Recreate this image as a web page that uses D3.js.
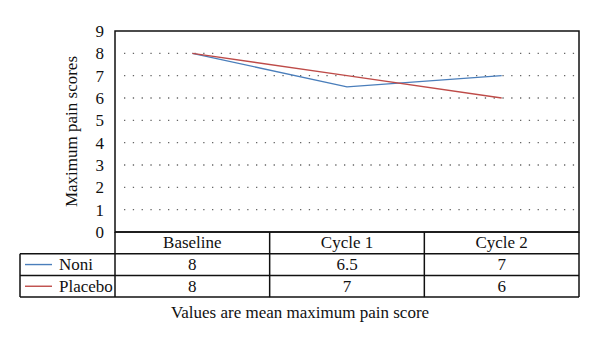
<!DOCTYPE html>
<html>
<head>
<meta charset="utf-8">
<script src="https://cdn.jsdelivr.net/npm/d3@7"></script>
<style>
  body { margin: 0; background: #fff; }
</style>
</head>
<body>
<svg id="chart" width="600" height="345" font-family="Liberation Serif"></svg>
<script>
var categories = ["Baseline", "Cycle 1", "Cycle 2"];
var seriesNames = ["Noni", "Placebo"];
var noniValues = [8, 6.5, 7];
var placeboValues = [8, 7, 6];
var valueLabels = [["8", "6.5", "7"], ["8", "7", "6"]];
var yTicks = [0, 1, 2, 3, 4, 5, 6, 7, 8, 9];
var colors = ["#4a7ebb", "#be4b48"];

var vis = d3.select("#chart"),
    MARGINS = { top: 31, left: 115, right: 579, bottom: 232 },
    TABLE_LEFT = 20,
    ROW_H = 21.7,
    FONT_FAMILY = "Liberation Serif",
    FONT_SIZE = 17;

function styleText(sel) {
  return sel.attr("font-family", FONT_FAMILY)
    .attr("font-size", FONT_SIZE)
    .attr("fill", "#111");
}

var xScale = d3.scaleBand().domain(categories).range([MARGINS.left, MARGINS.right]);
var yScale = d3.scaleLinear().domain([0, 9]).range([MARGINS.bottom, MARGINS.top]);

// dotted gridlines
vis.append("g")
  .selectAll("line")
  .data(yTicks.filter(function(d) { return d > 0 && d < 9; }))
  .join("line")
    .attr("x1", MARGINS.left + 9)
    .attr("x2", MARGINS.right - 1)
    .attr("y1", function(d) { return yScale(d); })
    .attr("y2", function(d) { return yScale(d); })
    .attr("stroke", "#666")
    .attr("stroke-width", 1.3)
    .attr("stroke-dasharray", "1.3,7.5");

// y axis labels
var yAxis = d3.axisLeft(yScale).tickValues(yTicks).tickSize(0).tickPadding(11);
var yg = vis.append("g")
  .attr("transform", "translate(" + MARGINS.left + ",0)")
  .call(yAxis);
yg.select(".domain").remove();
yg.attr("font-family", FONT_FAMILY).attr("font-size", FONT_SIZE);
styleText(yg.selectAll("text"));

styleText(vis.append("text"))
  .attr("transform", "translate(77," + ((MARGINS.top + MARGINS.bottom) / 2) + ") rotate(-90)")
  .attr("text-anchor", "middle")
  .text("Maximum pain scores");

// plot border
vis.append("rect")
  .attr("x", MARGINS.left)
  .attr("y", MARGINS.top)
  .attr("width", MARGINS.right - MARGINS.left)
  .attr("height", MARGINS.bottom - MARGINS.top)
  .attr("fill", "none")
  .attr("stroke", "#111")
  .attr("stroke-width", 1.5);

// lines
var lineGen = d3.line()
  .x(function(d, i) { return xScale(categories[i]) + xScale.bandwidth() / 2; })
  .y(function(d) { return yScale(d); });

[noniValues, placeboValues].forEach(function(vals, i) {
  vis.append("path")
    .attr("d", lineGen(vals))
    .attr("stroke", colors[i])
    .attr("stroke-width", 1.4)
    .attr("fill", "none");
});

// data table
var tbl = vis.append("g").attr("stroke", "#111").attr("stroke-width", 1.5).attr("fill", "none");
var rowY = [MARGINS.bottom, MARGINS.bottom + ROW_H, MARGINS.bottom + 2 * ROW_H, MARGINS.bottom + 3 * ROW_H];

tbl.append("line").attr("x1", MARGINS.left).attr("x2", MARGINS.right).attr("y1", rowY[0]).attr("y2", rowY[0]);
tbl.append("line").attr("x1", TABLE_LEFT).attr("x2", MARGINS.right).attr("y1", rowY[1]).attr("y2", rowY[1]);
tbl.append("line").attr("x1", TABLE_LEFT).attr("x2", MARGINS.right).attr("y1", rowY[2]).attr("y2", rowY[2]);
tbl.append("line").attr("x1", TABLE_LEFT).attr("x2", MARGINS.right).attr("y1", rowY[3]).attr("y2", rowY[3]);
tbl.append("line").attr("x1", TABLE_LEFT).attr("x2", TABLE_LEFT).attr("y1", rowY[1]).attr("y2", rowY[3]);
tbl.append("line").attr("x1", MARGINS.left).attr("x2", MARGINS.left).attr("y1", rowY[0]).attr("y2", rowY[3]);
categories.forEach(function(c) {
  var x = xScale(c) + xScale.bandwidth();
  tbl.append("line").attr("x1", x).attr("x2", x).attr("y1", rowY[0]).attr("y2", rowY[3]);
});

styleText(vis.append("g").selectAll("text")
  .data(categories)
  .join("text"))
    .attr("x", function(d) { return xScale(d) + xScale.bandwidth() / 2; })
    .attr("y", rowY[0] + ROW_H / 2 + 5.5)
    .attr("text-anchor", "middle")
    .text(function(d) { return d; });

seriesNames.forEach(function(name, i) {
  var cy = rowY[i + 1] + ROW_H / 2;
  vis.append("line")
    .attr("x1", TABLE_LEFT + 5).attr("x2", TABLE_LEFT + 32)
    .attr("y1", cy).attr("y2", cy)
    .attr("stroke", colors[i]).attr("stroke-width", 1.4);
  styleText(vis.append("text"))
    .attr("x", TABLE_LEFT + 39)
    .attr("y", cy + 5.5)
    .text(name);
  styleText(vis.append("g").selectAll("text")
    .data(valueLabels[i])
    .join("text"))
      .attr("x", function(d, j) { return xScale(categories[j]) + xScale.bandwidth() / 2; })
      .attr("y", cy + 5.5)
      .attr("text-anchor", "middle")
      .text(function(d) { return d; });
});

styleText(vis.append("text"))
  .attr("x", 300)
  .attr("y", 318)
  .attr("text-anchor", "middle")
  .text("Values are mean maximum pain score");
</script>
</body>
</html>
